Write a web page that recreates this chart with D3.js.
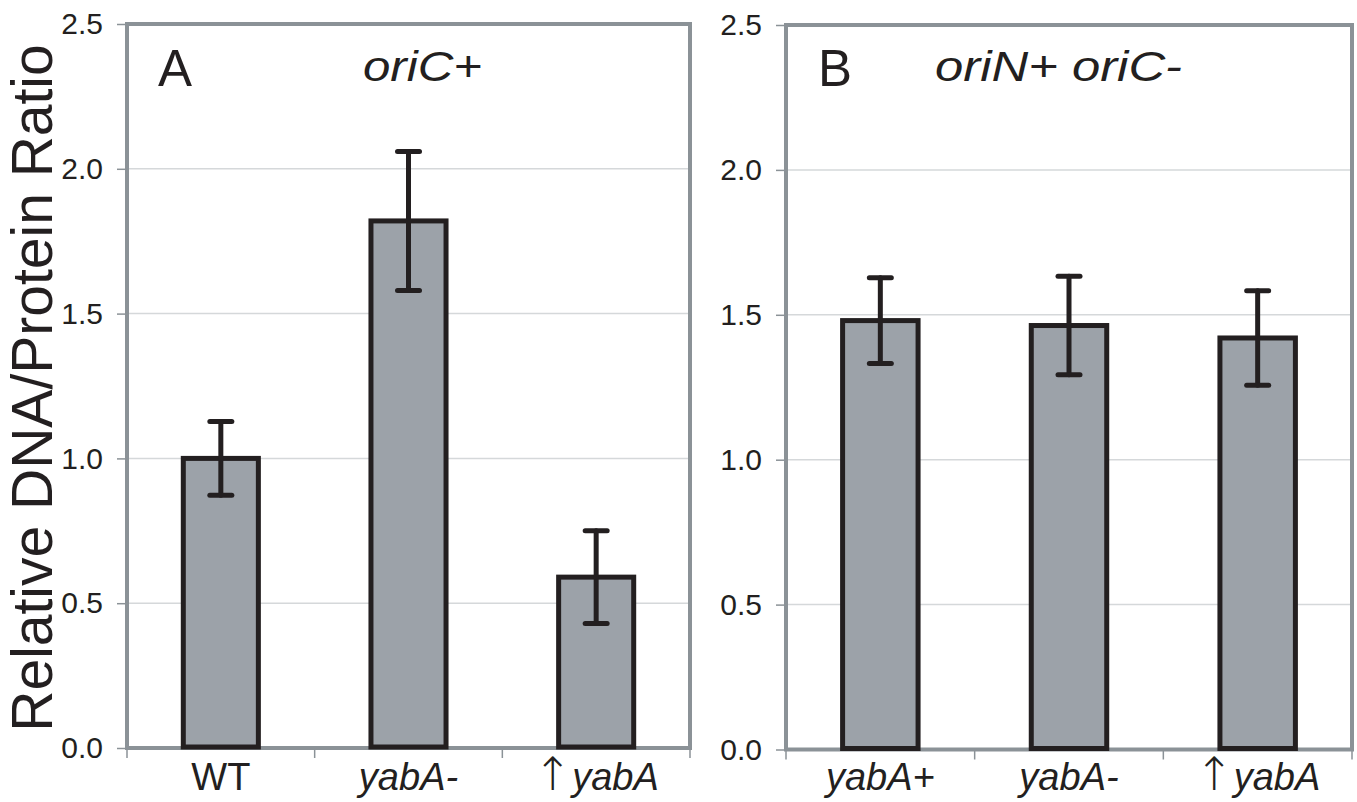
<!DOCTYPE html>
<html>
<head>
<meta charset="utf-8">
<script src="https://cdn.jsdelivr.net/npm/d3@7"></script>
<style>
  body { margin: 0; background: #fff; }
  svg { display: block; font-family: "Liberation Sans", Arial, sans-serif; }
  .tick-label { font-size: 30px; fill: #231f20; }
  .cat-label { font-size: 38px; fill: #231f20; }
</style>
</head>
<body>
<svg id="chart"></svg>
<script>
// values
const yTicks = [0, 0.5, 1.0, 1.5, 2.0, 2.5];

const categoriesA = ['WT', 'yabA-', '↑yabA'];
const valuesA = [1.00, 1.82, 0.59];
const errorsA = [0.127, 0.24, 0.16];

const categoriesB = ['yabA+', 'yabA-', '↑yabA'];
const valuesB = [1.48, 1.463, 1.42];
const errorsB = [0.148, 0.17, 0.163];

const svg = d3.select('#chart')
    .attr('width', 1357)
    .attr('height', 802);

function drawPanel(cfg, categories, values, errors) {
  const data = categories.map((c, i) => ({cat: c, value: values[i], err: errors[i]}));

  const x = d3.scaleBand()
      .domain(categories)
      .range([cfg.left, cfg.right]);

  const y = d3.scaleLinear()
      .domain([0, 2.5])
      .range([cfg.bottom, cfg.top]);

  const g = svg.append('g');

  // gridlines
  g.selectAll('.grid')
    .data(yTicks.slice(1, -1))
    .join('line')
      .attr('x1', cfg.left)
      .attr('x2', cfg.right)
      .attr('y1', d => y(d))
      .attr('y2', d => y(d))
      .attr('stroke', '#d5d8da')
      .attr('stroke-width', 1.5);

  // y axis ticks + labels
  const yAxis = d3.axisLeft(y)
      .tickValues(yTicks)
      .tickSize(10)
      .tickPadding(14)
      .tickFormat(d3.format('.1f'));

  const yAxisG = g.append('g')
      .attr('transform', `translate(${cfg.left},0)`)
      .call(yAxis);
  yAxisG.select('.domain').remove();
  yAxisG.selectAll('.tick line').attr('stroke', '#8b9297').attr('stroke-width', 1.5);
  yAxisG.selectAll('.tick text')
      .attr('class', 'tick-label')
      .attr('font-size', null)
      .attr('font-family', null)
      .attr('fill', null);

  // x ticks at category boundaries
  const bounds = categories.map(c => x(c)).concat([cfg.right]);
  g.selectAll('.xtick')
    .data(bounds)
    .join('line')
      .attr('x1', d => d)
      .attr('x2', d => d)
      .attr('y1', cfg.bottom)
      .attr('y2', cfg.bottom + 10)
      .attr('stroke', '#8b9297')
      .attr('stroke-width', 1.5);

  // frame
  g.append('rect')
      .attr('x', cfg.left)
      .attr('y', cfg.top)
      .attr('width', cfg.right - cfg.left)
      .attr('height', cfg.bottom - cfg.top)
      .attr('fill', 'none')
      .attr('stroke', '#8b9297')
      .attr('stroke-width', 4);

  // bars
  const barW = x.bandwidth() * 0.4;
  g.selectAll('.bar')
    .data(data)
    .join('rect')
      .attr('x', d => x(d.cat) + (x.bandwidth() - barW) / 2)
      .attr('y', d => y(d.value))
      .attr('width', barW)
      .attr('height', d => y(0) - y(d.value) - 1)
      .attr('fill', '#9ca2a9')
      .attr('stroke', '#231f20')
      .attr('stroke-width', 5);

  // error bars
  const cx = d => x(d.cat) + x.bandwidth() / 2;
  const eg = g.append('g')
      .attr('stroke', '#231f20')
      .attr('stroke-width', 5)
      .attr('stroke-linecap', 'round');
  eg.selectAll('.err')
    .data(data)
    .join('line')
      .attr('x1', cx).attr('x2', cx)
      .attr('y1', d => y(d.value + d.err))
      .attr('y2', d => y(d.value - d.err));
  eg.selectAll('.cap-top')
    .data(data)
    .join('line')
      .attr('x1', d => cx(d) - 11).attr('x2', d => cx(d) + 11)
      .attr('y1', d => y(d.value + d.err))
      .attr('y2', d => y(d.value + d.err));
  eg.selectAll('.cap-bot')
    .data(data)
    .join('line')
      .attr('x1', d => cx(d) - 11).attr('x2', d => cx(d) + 11)
      .attr('y1', d => y(d.value - d.err))
      .attr('y2', d => y(d.value - d.err));

  // category labels, gene names in italics
  const labels = g.selectAll('.cat-label')
    .data(data)
    .join('text')
      .attr('class', 'cat-label')
      .attr('x', cx)
      .attr('y', 790)
      .attr('text-anchor', 'middle');
  labels.each(function(d) {
    const t = d3.select(this);
    if (d.cat === 'WT') {
      t.text(d.cat);
    } else if (d.cat.startsWith('↑')) {
      t.append('tspan').attr('font-size', 46).attr('font-family', 'DejaVu Sans').attr('font-weight', 200).text('↑');
      t.append('tspan').attr('font-style', 'italic').text(d.cat.slice(1));
    } else {
      t.append('tspan').attr('font-style', 'italic').text(d.cat);
    }
  });

  // panel letter and title
  g.append('text')
      .attr('x', cfg.letterX)
      .attr('y', 86)
      .attr('font-size', 51)
      .attr('fill', '#231f20')
      .text(cfg.letter);
  g.append('text')
      .attr('x', cfg.titleX)
      .attr('y', 81)
      .attr('font-size', 42)
      .attr('font-style', 'italic')
      .attr('textLength', cfg.titleW)
      .attr('lengthAdjust', 'spacingAndGlyphs')
      .attr('fill', '#231f20')
      .text(cfg.title);
}

drawPanel({left: 127, right: 690, top: 24, bottom: 748, letter: 'A', letterX: 158, title: 'oriC+', titleX: 363, titleW: 119},
  categoriesA, valuesA, errorsA);
drawPanel({left: 786, right: 1352, top: 25, bottom: 749.5, letter: 'B', letterX: 818, title: 'oriN+ oriC-', titleX: 935, titleW: 247},
  categoriesB, valuesB, errorsB);

// shared y axis title
svg.append('text')
    .attr('transform', 'translate(52,388) rotate(-90)')
    .attr('text-anchor', 'middle')
    .attr('font-size', 57)
    .attr('fill', '#231f20')
    .text('Relative DNA/Protein Ratio');
</script>
</body>
</html>
